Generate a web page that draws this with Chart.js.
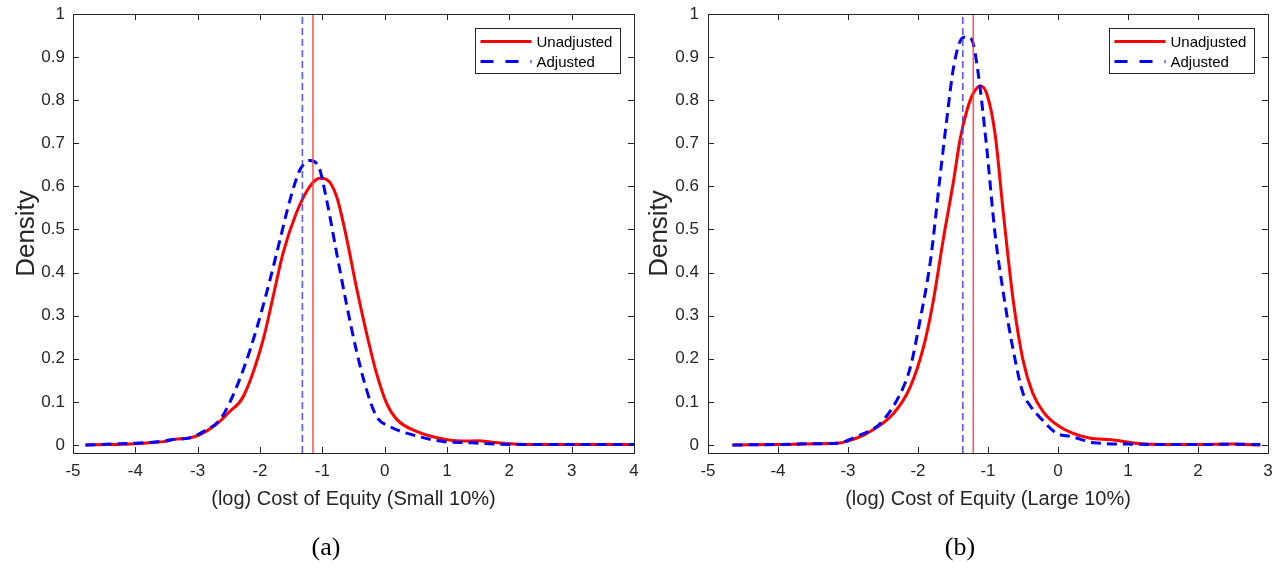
<!DOCTYPE html>
<html>
<head>
<meta charset="utf-8">
<script src="https://cdn.jsdelivr.net/npm/chart.js@4.4.0/dist/chart.umd.min.js"></script>
<style>
body{margin:0;background:#fff;width:1286px;height:569px;position:relative;overflow:hidden}
.box{position:absolute;top:0;width:643px;height:569px}
.cap{position:absolute;top:532px;font-family:"Liberation Serif",serif;font-size:26px;color:#000;transform:translateX(-50%)}
</style>
</head>
<body>
<div class="box" style="left:0"><canvas id="small" width="643" height="569"></canvas></div>
<div class="box" style="left:643px"><canvas id="large" width="643" height="569"></canvas></div>
<div class="cap" style="left:326px">(a)</div>
<div class="cap" style="left:960px">(b)</div>
<script>
// Small 10% panel
const smallUnadjX = [-4.8,-4.4,-4.0,-3.77,-3.5,-3.38,-3.14,-2.98,-2.71,-2.49,-2.27,-1.95,-1.79,-1.63,-1.42,-1.2,-1.04,-0.93,-0.77,-0.615,-0.455,-0.29,-0.13,0.03,0.19,0.5,1.0,1.3,1.5,1.7,2.0,2.5,3.0,3.5,4.0];
const smallUnadjY = [0,0.001,0.003,0.005,0.009,0.013,0.016,0.023,0.047,0.077,0.112,0.244,0.344,0.445,0.537,0.6,0.619,0.616,0.576,0.483,0.367,0.259,0.166,0.097,0.06,0.032,0.012,0.009,0.01,0.007,0.003,0.001,0.001,0.001,0.001];
const smallAdjX = [-4.8,-4.4,-4.0,-3.77,-3.5,-3.38,-3.14,-2.91,-2.64,-2.49,-2.27,-2.06,-1.84,-1.68,-1.52,-1.36,-1.2,-1.06,-0.93,-0.77,-0.615,-0.455,-0.29,-0.13,0.08,0.46,0.94,1.4,1.82,2.2,3.0,4.0];
const smallAdjY = [0,0.002,0.004,0.006,0.01,0.013,0.016,0.031,0.059,0.097,0.174,0.267,0.383,0.476,0.568,0.638,0.66,0.646,0.568,0.445,0.329,0.22,0.128,0.066,0.043,0.023,0.008,0.005,0.002,0.001,0.001,0.001];
const smallMeanUnadj = -1.15;
const smallMeanAdj = -1.32;

// Large 10% panel
const largeUnadjX = [-4.65,-4.0,-3.5,-3.16,-2.95,-2.73,-2.35,-2.11,-1.92,-1.78,-1.64,-1.49,-1.4,-1.3,-1.21,-1.11,-1.02,-0.9,-0.78,-0.64,-0.5,-0.36,-0.21,0.02,0.45,0.76,1.11,1.5,2.0,2.5,2.89];
const largeUnadjY = [0,0.001,0.003,0.004,0.012,0.027,0.073,0.135,0.228,0.336,0.476,0.615,0.708,0.777,0.816,0.833,0.816,0.723,0.537,0.336,0.197,0.12,0.077,0.043,0.016,0.012,0.004,0.001,0.001,0.002,0];
const largeAdjX = [-4.65,-4.0,-3.5,-3.16,-2.87,-2.54,-2.25,-2.11,-1.97,-1.82,-1.68,-1.59,-1.49,-1.37,-1.3,-1.23,-1.14,-1.02,-0.9,-0.78,-0.64,-0.5,-0.41,-0.23,-0.02,0.18,0.53,1.0,1.5,2.0,2.5,2.89];
const largeAdjY = [0,0.001,0.003,0.004,0.02,0.05,0.12,0.18,0.29,0.43,0.63,0.754,0.878,0.944,0.947,0.94,0.862,0.692,0.491,0.352,0.22,0.12,0.094,0.059,0.027,0.02,0.005,0.002,0.001,0.001,0.002,0.001];
const largeMeanUnadj = -1.21;
const largeMeanAdj = -1.36;

const yTicksMin = -0.0186, yTicksMax = 1;
const axisColor = '#262626';
const sans = '"Liberation Sans", Arial, sans-serif';

function pts(xs, ys){ return xs.map((v,i)=>({x:v, y:ys[i]})); }

// no extra room for overhanging tick labels, layout padding decides the plot box
function noOverhang(s){ s.paddingTop = 0; s.paddingBottom = 0; s.paddingLeft = 0; s.paddingRight = 0; }

// box with inward ticks on all sides plus the legend inside the top-right corner
const frame = {
  id: 'frame',
  afterDatasetsDraw(chart){
    const {ctx, chartArea:a, scales:{x, y}} = chart;
    ctx.save();
    ctx.strokeStyle = axisColor;
    ctx.lineWidth = 1;
    ctx.setLineDash([]);
    ctx.strokeRect(a.left+0.5, a.top+0.5, a.right-a.left, a.bottom-a.top);
    ctx.beginPath();
    x.ticks.forEach(t=>{
      const p = Math.round(x.getPixelForValue(t.value))+0.5;
      ctx.moveTo(p, a.bottom); ctx.lineTo(p, a.bottom-6);
      ctx.moveTo(p, a.top); ctx.lineTo(p, a.top+6);
    });
    y.ticks.forEach(t=>{
      const p = Math.round(y.getPixelForValue(t.value))+0.5;
      ctx.moveTo(a.left, p); ctx.lineTo(a.left+6, p);
      ctx.moveTo(a.right, p); ctx.lineTo(a.right-6, p);
    });
    ctx.stroke();

    const bw = 145, bh = 45;
    const bx = Math.round(a.right - 14 - bw) + 0.5, by = Math.round(a.top + 14) + 0.5;
    ctx.fillStyle = '#fff';
    ctx.fillRect(bx, by, bw, bh);
    ctx.strokeRect(bx, by, bw, bh);
    ctx.font = '15px ' + sans;
    ctx.textBaseline = 'middle';
    chart.data.datasets.filter(d=>d.inLegend).forEach((d,i)=>{
      const ly = by + 13 + i*20;
      ctx.strokeStyle = d.borderColor;
      ctx.lineWidth = 3;
      ctx.setLineDash(d.borderDash ? [13,12] : []);
      ctx.beginPath(); ctx.moveTo(bx+5, ly); ctx.lineTo(bx+56, ly); ctx.stroke();
      ctx.fillStyle = '#000';
      ctx.fillText(d.label, bx+61, ly+1);
    });
    ctx.restore();
  }
};

function makeChart(id, o){
  return new Chart(document.getElementById(id), {
    type: 'line',
    data: {
      datasets: [
        {label:'meanAdj', data:[{x:o.meanAdj,y:yTicksMin},{x:o.meanAdj,y:yTicksMax}], borderColor:'rgba(60,60,255,0.85)', borderWidth:1.6, borderDash:[7,4], order:0},
        {label:'meanUnadj', data:[{x:o.meanUnadj,y:yTicksMin},{x:o.meanUnadj,y:yTicksMax}], borderColor:'rgba(255,60,60,0.85)', borderWidth:1.6, order:0},
        {label:'Unadjusted', data:pts(o.ux,o.uy), borderColor:'#ff0000', borderWidth:3, cubicInterpolationMode:'monotone', order:2, inLegend:true},
        {label:'Adjusted', data:pts(o.ax,o.ay), borderColor:'#0000ff', borderWidth:3, borderDash:[10,6], cubicInterpolationMode:'monotone', order:1, inLegend:true}
      ]
    },
    options: {
      responsive:false,
      animation:false,
      layout:{padding:{top:14, right:o.padRight, left:0, bottom:0}},
      elements:{point:{radius:0}},
      plugins:{legend:{display:false}, tooltip:{enabled:false}},
      scales:{
        x:{
          type:'linear', min:o.xmin, max:o.xmax,
          grid:{display:false, drawTicks:false}, border:{display:false},
          ticks:{stepSize:1, padding:8, color:axisColor, maxRotation:0, includeBounds:false, font:{family:sans, size:17}},
          title:{display:true, text:o.xlabel, color:axisColor, font:{family:sans, size:20}, padding:{top:0, bottom:58}},
          afterFit(s){ s.height = 116; noOverhang(s); }
        },
        y:{
          min:yTicksMin, max:yTicksMax,
          grid:{display:false, drawTicks:false}, border:{display:false},
          ticks:{stepSize:0.1, padding:o.yPad, color:axisColor, includeBounds:false, font:{family:sans, size:17},
                 callback:v=>String(+v.toFixed(2))},
          title:{display:true, text:'Density', color:axisColor, font:{family:sans, size:26}, padding:{top:o.yTitlePad, bottom:0}},
          afterFit(s){ s.width = o.yWidth; noOverhang(s); }
        }
      }
    },
    plugins:[frame]
  });
}

makeChart('small', {ux:smallUnadjX, uy:smallUnadjY, ax:smallAdjX, ay:smallAdjY, meanUnadj:smallMeanUnadj, meanAdj:smallMeanAdj,
  xmin:-5, xmax:4, xlabel:'(log) Cost of Equity (Small 10%)', padRight:9, yWidth:73, yPad:8, yTitlePad:11});
makeChart('large', {ux:largeUnadjX, uy:largeUnadjY, ax:largeAdjX, ay:largeAdjY, meanUnadj:largeMeanUnadj, meanAdj:largeMeanAdj,
  xmin:-5, xmax:3, xlabel:'(log) Cost of Equity (Large 10%)', padRight:18, yWidth:65, yPad:9, yTitlePad:1});
</script>
</body>
</html>
